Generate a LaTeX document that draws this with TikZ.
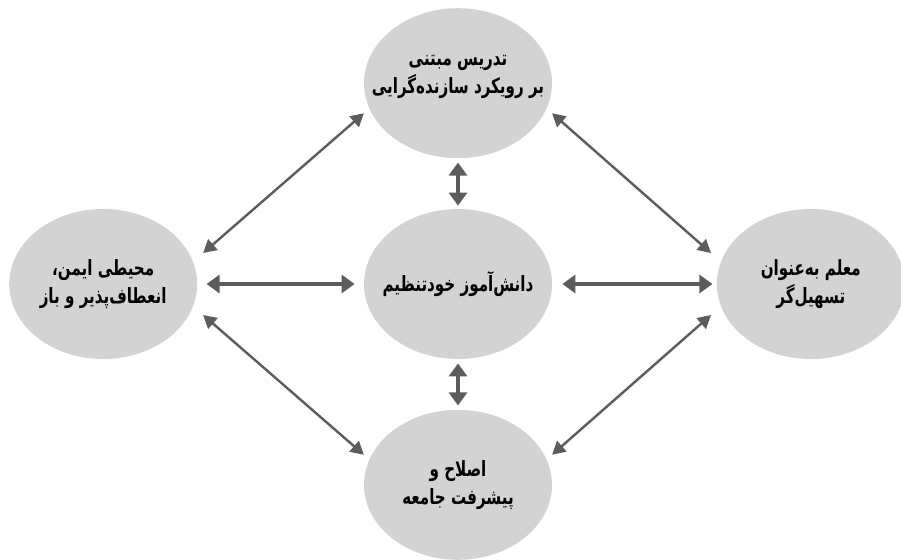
\documentclass[tikz,border=0pt]{standalone}
\usepackage{fontspec}
\newfontfamily\arabicfont[Script=Arabic, FakeStretch=0.72]{DejaVu Sans}
\TeXXeTstate=1
\usepackage{tikz}
\usetikzlibrary{arrows.meta,positioning,shapes.geometric}
\definecolor{bargray}{RGB}{211,211,212}
\definecolor{pilgray}{RGB}{92,92,92}
\tikzset{
    >={Triangle[length=6.5pt,width=7pt]},
    punkt/.style={
           ellipse,
           fill=bargray,
           minimum width=94pt,
           minimum height=75pt,
           inner sep=0pt},
    matn/.style={
           font=\arabicfont\bfseries\fontsize{10.5}{14}\selectfont,
           align=center,
           text=black},
    pil/.style={
           <->,
           draw=pilgray,
           line width=1.2pt},
    pilkort/.style={
           pil,
           {Triangle[length=6.5pt,width=9pt]}-{Triangle[length=6.5pt,width=9pt]},
           line width=1.6pt}
}
\begin{document}
\begin{tikzpicture}[x=0.5pt, y=-0.5pt, node distance=25pt]
        \useasboundingbox (0,0) rectangle (901,559);
        \node[punkt] (danesh) at (458,284) {};
        \node[punkt, above=of danesh] (tadris) {};
        \node[punkt, below=of danesh] (eslah) {};
        \node[punkt, left=83pt of danesh] (mohit) {};
        \node[punkt, right=82pt of danesh] (moallem) {};

        \node[matn] (danesh-t) at (danesh) {\beginR دانش‌آموز خودتنظیم\endR};
        \node[matn] (tadris-t) at ([yshift=3pt]tadris) {\beginR تدریس مبتنی\endR\\\beginR بر رویکرد سازنده‌گرایی\endR};
        \node[matn] (eslah-t) at (eslah) {\beginR اصلاح و\endR\\\beginR پیشرفت جامعه\endR};
        \node[matn] (mohit-t) at (mohit) {\beginR محیطی ایمن،\endR\\\beginR انعطاف‌پذیر و باز\endR};
        \node[matn] (moallem-t) at (moallem) {\beginR معلم به‌عنوان\endR\\\beginR تسهیل‌گر\endR};

        \draw[pil, shorten <=6.5pt, shorten >=3.5pt] (mohit.14) -- (tadris.196);
        \draw[pil, shorten <=3.5pt, shorten >=6.5pt] (tadris.-16) -- (moallem.166);
        \draw[pil, shorten <=6.5pt, shorten >=3.5pt] (mohit.-14) -- (eslah.164);
        \draw[pil, shorten <=6.5pt, shorten >=3.5pt] (moallem.194) -- (eslah.16);
        \draw[pilkort, shorten <=4.5pt, shorten >=4.5pt] (mohit) -- (danesh);
        \draw[pilkort, shorten <=5pt, shorten >=2pt] (danesh) -- (moallem);
        \draw[pilkort, shorten <=2pt, shorten >=1.5pt] (tadris) -- (danesh);
        \draw[pilkort, shorten <=2pt, shorten >=2pt] (danesh) -- (eslah);
    \end{tikzpicture}
\end{document}
